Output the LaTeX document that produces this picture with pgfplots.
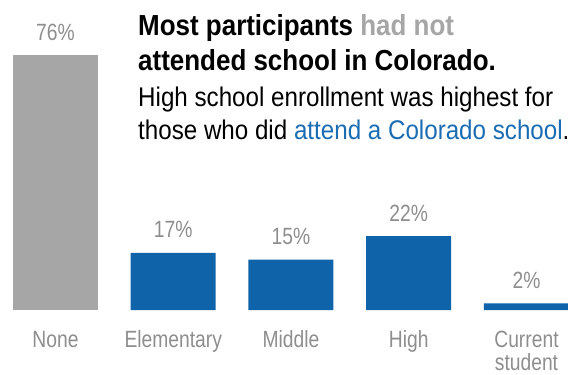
\documentclass[border=0pt]{standalone}
\usepackage{pgfplots}
\pgfplotsset{compat=1.18}
\usepackage{fontspec}
\setmainfont{Liberation Sans}
\newfontfamily\lab[FakeStretch=0.82]{Liberation Sans}
\newfontfamily\ttl[FakeStretch=0.895]{Liberation Sans}
\definecolor{barblue}{HTML}{0F63A8}
\definecolor{bargray}{HTML}{A6A6A6}
\definecolor{labgray}{HTML}{8E8E8E}
\definecolor{txtblue}{HTML}{1A6DB3}
\begin{document}
\begin{tikzpicture}
\begin{axis}[
  scale only axis, width=568pt, height=375pt,
  xmin=-0.4713, xmax=4.3525, ymin=-19.37, ymax=92.40,
  axis lines=none, xtick=\empty, ytick=\empty,
  clip=false,
  ybar, bar width=85pt, bar shift=0pt,
  /pgf/number format/assume math mode=true,
  nodes near coords={\pgfmathprintnumber{\pgfplotspointmeta}\%},
  every node near coord/.append style={anchor=base, yshift=15pt, inner sep=0pt,
     font=\lab\fontsize{23.5}{28}\selectfont, text=labgray},
]
\addplot[fill=bargray, draw=none] coordinates {(0,76)};
\addplot[fill=barblue, draw=none] coordinates {(1,17) (2,15) (3,22) (4,2)};
% category labels
\begin{scope}[every node/.style={anchor=base, inner sep=0pt, text=labgray, font=\lab\fontsize{23.5}{28}\selectfont}]
\node[yshift=-37pt] at (axis cs:0,0) {None};
\node[yshift=-37pt] at (axis cs:1,0) {Elementary};
\node[yshift=-37pt] at (axis cs:2,0) {Middle};
\node[yshift=-37pt] at (axis cs:3,0) {High};
\node[yshift=-37pt] at (axis cs:4,0) {Current};
\node[yshift=-60pt] at (axis cs:4,0) {student};
\end{scope}
% title
\begin{scope}[every node/.style={anchor=base west, inner sep=0pt}]
\node at (rel axis cs:0.2430,0.904) {\ttl\bfseries\fontsize{29}{35}\selectfont Most participants \textcolor{bargray}{had not}};
\node at (rel axis cs:0.2430,0.8107) {\ttl\bfseries\fontsize{29}{35}\selectfont attended school in Colorado.};
\node at (rel axis cs:0.2430,0.7173) {\ttl\fontsize{27}{33}\selectfont High school enrollment was highest for};
\node at (rel axis cs:0.2430,0.6293) {\ttl\fontsize{27}{33}\selectfont those who did \textcolor{txtblue}{attend a Colorado school}.};
\end{scope}
\end{axis}
\pgfresetboundingbox
\useasboundingbox (current axis.south west) rectangle (current axis.north east);
\end{tikzpicture}
\end{document}
